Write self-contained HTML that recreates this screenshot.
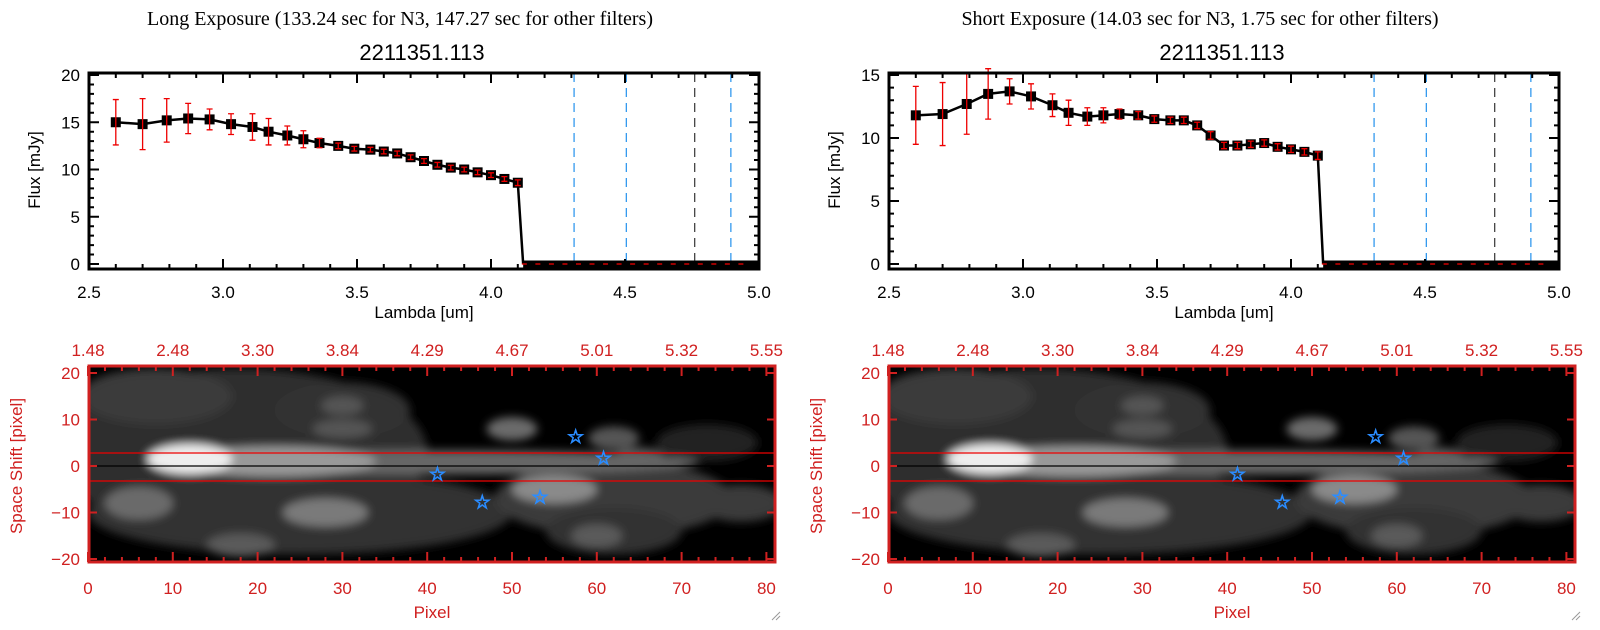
<!DOCTYPE html>
<html><head><meta charset="utf-8"><style>
html,body{margin:0;padding:0;background:#fff;}
svg{display:block}
text{font-family:"Liberation Sans",sans-serif}
.ser{font-family:"Liberation Serif",serif}
</style></head><body>
<svg id="s" width="1600" height="630" xmlns="http://www.w3.org/2000/svg">
<defs>
<filter id="bl" x="-20%" y="-20%" width="140%" height="140%"><feGaussianBlur stdDeviation="4.5"/></filter>
<clipPath id="c0"><rect x="89" y="366" width="686" height="196"/></clipPath>
<clipPath id="c1"><rect x="889" y="366" width="686" height="196"/></clipPath>
</defs>
</svg>
<script>
const S=document.getElementById('s');let h='';
const lx=[2.6,2.7,2.79,2.87,2.95,3.03,3.11,3.17,3.24,3.30,3.36,3.43,3.49,3.55,3.60,3.65,3.70,3.75,3.80,3.85,3.90,3.95,4.0,4.05,4.10];
const P=[
 {title:"Long Exposure (133.24 sec for N3, 147.27 sec for other filters)",ymax:20,ystep:5,
  v:[15.0,14.8,15.2,15.4,15.3,14.8,14.5,14.0,13.6,13.2,12.8,12.5,12.2,12.1,11.9,11.7,11.3,10.9,10.5,10.2,10.0,9.7,9.4,9.0,8.6],
  e:[2.4,2.7,2.3,1.6,1.1,1.1,1.4,1.4,1.0,0.9,0.5,0.3,0.25,0.25,0.25,0.25,0.25,0.25,0.25,0.25,0.25,0.25,0.25,0.25,0.3]},
 {title:"Short Exposure (14.03 sec for N3, 1.75 sec for other filters)",ymax:15,ystep:5,
  v:[11.8,11.9,12.7,13.5,13.7,13.3,12.6,12.0,11.7,11.8,11.9,11.8,11.5,11.4,11.4,11.0,10.2,9.4,9.4,9.5,9.6,9.3,9.1,8.9,8.6],
  e:[2.3,2.5,2.4,2.0,1.0,1.0,0.9,1.0,0.7,0.6,0.4,0.3,0.25,0.25,0.25,0.25,0.3,0.25,0.25,0.25,0.25,0.25,0.25,0.25,0.3]}];
P.forEach((p,i)=>{
 const o=i*800;
 const X=l=>o+89+268*(l-2.5);
 const Y=v=>264-v*(189/p.ymax);
 h+=`<text class="ser" x="${o+400}" y="25" font-size="20" text-anchor="middle">${p.title}</text>`;
 h+=`<text x="${o+422}" y="60" font-size="22" text-anchor="middle">2211351.113</text>`;
 [[4.31,'#3399ee'],[4.505,'#3399ee'],[4.76,'#444'],[4.895,'#3399ee']].forEach(d=>{
  h+=`<line x1="${X(d[0])}" y1="73" x2="${X(d[0])}" y2="269" stroke="${d[1]}" stroke-width="1.3" stroke-dasharray="9,6"/>`;});
 let pts=lx.map((l,k)=>X(l)+','+Y(p.v[k])).join(' ');
 pts+=' '+X(4.12)+','+Y(0);
 h+=`<polyline points="${pts}" fill="none" stroke="#000" stroke-width="2.5"/>`;
 h+=`<line x1="${X(4.12)}" y1="${Y(0)}" x2="${X(5)}" y2="${Y(0)}" stroke="#000" stroke-width="7"/>`;
 for(let l=4.13;l<5;l+=0.0505){h+=`<line x1="${X(l)-4}" y1="${Y(0)}" x2="${X(l)+1}" y2="${Y(0)}" stroke="#e00" stroke-width="1.3"/>`;}
 lx.forEach((l,k)=>{const x=X(l),y=Y(p.v[k]);
  h+=`<rect x="${x-5}" y="${y-5}" width="10" height="10" fill="#000"/>`;
  const y1=Y(p.v[k]+p.e[k]),y2=Y(p.v[k]-p.e[k]);
  h+=`<path d="M${x} ${y1}V${y2}M${x-3} ${y1}h6M${x-3} ${y2}h6" stroke="#e00" stroke-width="1.3" fill="none"/>`;});
 h+=`<rect x="${o+89}" y="73" width="${670}" height="196" fill="none" stroke="#000" stroke-width="3"/>`;
 for(let l=2.5;l<=5.001;l+=0.1){const x=X(l);const maj=Math.abs(l*2-Math.round(l*2))<0.01;const L=maj?10:5;
  h+=`<path d="M${x} 269v-${L}M${x} 73v${L}" stroke="#000" stroke-width="2"/>`;
  if(maj)h+=`<text x="${x}" y="298" font-size="17" text-anchor="middle">${l.toFixed(1)}</text>`;}
 for(let v=0;v<=p.ymax+0.01;v+=1){const y=Y(v);const maj=v%p.ystep==0;const L=maj?10:5;
  h+=`<path d="M${o+89} ${y}h${L}M${o+759} ${y}h-${L}" stroke="#000" stroke-width="2"/>`;
  if(maj)h+=`<text x="${o+80}" y="${y+6}" font-size="17" text-anchor="end">${v}</text>`;}
 h+=`<text x="${o+424}" y="318" font-size="17" text-anchor="middle">Lambda [um]</text>`;
 h+=`<text transform="translate(${o+40},170) rotate(-90)" font-size="17" text-anchor="middle">Flux [mJy]</text>`;
 const PX=u=>o+88+8.48*u, PY=v=>466-v*4.65;
 h+=`<rect x="${o+89}" y="366" width="686" height="196" fill="#000"/>`;
 h+=`<g clip-path="url(#c${i})"><g filter="url(#bl)">`;
 const B=[[18,3,22,18,'#2e2e2e'],[8,15,9,6,'#3a3a3a'],[30,12,8,6,'#333'],[25,-10,25,9,'#333'],[62,-7,14,8,'#3a3a3a'],[62,-14,8,5,'#333'],[77,-8,5,4,'#3a3a3a'],[73,5,6,4,'#222'],
 [6,-8,4,3.5,'#6a6a6a'],[28,-10,5,3,'#7a7a7a'],[18,-17,4,2.5,'#5a5a5a'],[55,-5,5,3,'#8a8a8a'],[60,-15,3,2.5,'#5a5a5a'],[50,8,3,2.5,'#6a6a6a'],[30,13,2.5,2,'#555'],[30,8,3.5,2,'#555'],[62,6,3,2.5,'#555'],[65,2,3,2,'#555'],
 [42,0.8,30,2.6,'#666'],[22,1,12,3.2,'#999'],[12,1.5,5,3.2,'#eee']];
 B.forEach(b=>{h+=`<ellipse cx="${PX(b[0])}" cy="${PY(b[1])}" rx="${b[2]*8.48}" ry="${b[3]*4.65}" fill="${b[4]}"/>`;});
 h+=`</g></g>`;
 h+=`<line x1="${o+89}" y1="453" x2="${o+775}" y2="453" stroke="#e00" stroke-width="1.3"/>`;
 h+=`<line x1="${o+89}" y1="481" x2="${o+775}" y2="481" stroke="#e00" stroke-width="1.3"/>`;
 h+=`<line x1="${o+89}" y1="466" x2="${o+775}" y2="466" stroke="#000" stroke-width="1.3"/>`;
 [[41.2,-1.6],[46.5,-7.6],[53.3,-6.6],[57.5,6.5],[60.8,1.8]].forEach(s=>{
  h+=`<text x="${PX(s[0])}" y="${PY(s[1])+7}" font-size="19" fill="none" stroke="#2a8cff" stroke-width="1" text-anchor="middle" font-family="DejaVu Sans">☆</text>`;});
 h+=`<rect x="${o+89}" y="366" width="686" height="196" fill="none" stroke="#d02020" stroke-width="3"/>`;
 const tl=['1.48','2.48','3.30','3.84','4.29','4.67','5.01','5.32','5.55'];
 for(let u=0;u<=80;u+=2){const x=PX(u);const maj=u%10==0;const L=maj?10:5;
  h+=`<path d="M${x} 562v-${L}M${x} 366v${L}" stroke="#d02020" stroke-width="2"/>`;
  if(maj){h+=`<text x="${x}" y="594" font-size="17" fill="#d02020" text-anchor="middle">${u}</text>`;
   h+=`<text x="${x}" y="356" font-size="17" fill="#d02020" text-anchor="middle">${tl[u/10]}</text>`;}}
 for(let v=-20;v<=20;v+=10){const y=PY(v);
  h+=`<path d="M${o+89} ${y}h8M${o+775} ${y}h-8" stroke="#d02020" stroke-width="2"/>`;
  h+=`<text x="${o+80}" y="${y+6}" font-size="17" fill="#d02020" text-anchor="end">${v==-20?'−20':v==-10?'−10':v}</text>`;}
 h+=`<text x="${o+432}" y="618" font-size="17" fill="#d02020" text-anchor="middle">Pixel</text>`;
 h+=`<text transform="translate(${o+22},466) rotate(-90)" font-size="17" fill="#d02020" text-anchor="middle">Space Shift [pixel]</text>`;
 h+=`<path d="M${o+772} 620l8-8M${o+776} 620l4-4" stroke="#999" stroke-width="1"/>`;
});
S.insertAdjacentHTML('beforeend',h);
</script>
</body></html>
